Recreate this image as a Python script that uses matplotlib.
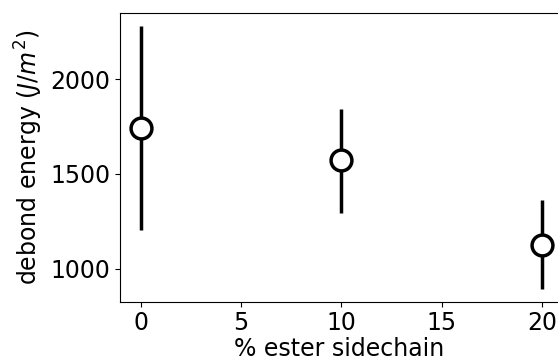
import numpy as np
import matplotlib.pyplot as plt

# Daten
ester = [0, 10, 20]
energie = [1744, 1573, 1123]
fehler_unten = [541, 282, 229]
fehler_oben = [534, 270, 238]

fig = plt.figure(figsize=(5.58, 3.62), dpi=100)
ax = fig.add_axes([0.215, 0.1666, 0.81, 0.7964])

ax.errorbar(ester, energie, yerr=[fehler_unten, fehler_oben], fmt='o',
            color='black', ecolor='black', elinewidth=2.5, capsize=0,
            markersize=15, markerfacecolor='white', markeredgecolor='black',
            markeredgewidth=2.5)

# rechter Rand liegt ausserhalb des Bildes
ax.set_xlim(-1.05, 21.5)
ax.set_xticks([0, 5, 10, 15, 20])
ax.set_yticks([1000, 1500, 2000])
ax.tick_params(labelsize=17)
ax.set_xlabel('% ester sidechain', fontsize=17, labelpad=1, x=0.485)
ax.set_ylabel('debond energy ($J/m^2$)', fontsize=17)

plt.savefig('out.png', dpi=100)
